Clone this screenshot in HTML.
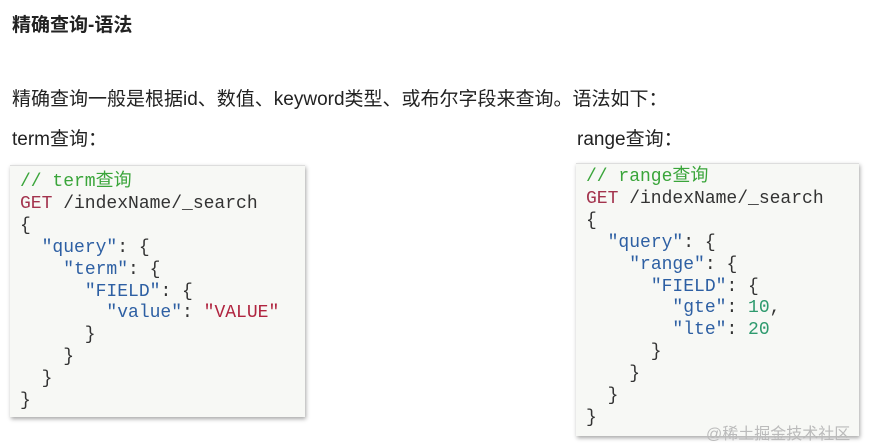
<!DOCTYPE html>
<html><head><meta charset="utf-8"><style>
body{margin:0;width:871px;height:445px;background:#fff;position:relative;overflow:hidden;font-family:"Liberation Sans","Noto Sans CJK SC",sans-serif;color:#222}
.t{position:absolute;white-space:nowrap}
.box{position:absolute;background:#f7f8f5;box-shadow:1px 2px 4px rgba(0,0,0,.35);border-top:1px solid #ddd}
pre{margin:0;font-family:"Liberation Mono","Noto Sans CJK SC",monospace;font-size:18px;line-height:21.9px;color:#333}
.c{color:#3aa53a}.k{color:#a3334d}.s{color:#2d5fa3}.v{color:#b0243f}.n{color:#2e9a6e}
</style></head><body>
<div class="t" style="left:12px;top:10px;font-size:19px;font-weight:bold">精确查询-语法</div>
<div class="t" style="left:12px;top:84px;font-size:19px">精确查询一般是根据id、数值、keyword类型、或布尔字段来查询。语法如下：</div>
<div class="t" style="left:12px;top:124px;font-size:19px">term查询：</div>
<div class="t" style="left:577px;top:124px;font-size:19px">range查询：</div>
<div class="box" style="left:10px;top:165px;width:295px;height:251px">
<pre style="padding:6px 0 0 10px"><span class="c">// term查询</span>
<span class="k">GET</span> /indexName/_search
{
  <span class="s">"query"</span>: {
    <span class="s">"term"</span>: {
      <span class="s">"FIELD"</span>: {
        <span class="s">"value"</span>: <span class="v">"VALUE"</span>
      }
    }
  }
}</pre></div>
<div class="box" style="left:576px;top:163px;width:283px;height:272px">
<pre style="padding:3px 0 0 10px"><span class="c">// range查询</span>
<span class="k">GET</span> /indexName/_search
{
  <span class="s">"query"</span>: {
    <span class="s">"range"</span>: {
      <span class="s">"FIELD"</span>: {
        <span class="s">"gte"</span>: <span class="n">10</span>,
        <span class="s">"lte"</span>: <span class="n">20</span>
      }
    }
  }
}</pre></div>
<div class="t" style="left:706px;top:420px;font-size:16px;color:#bbb">@稀土掘金技术社区</div>
</body></html>
